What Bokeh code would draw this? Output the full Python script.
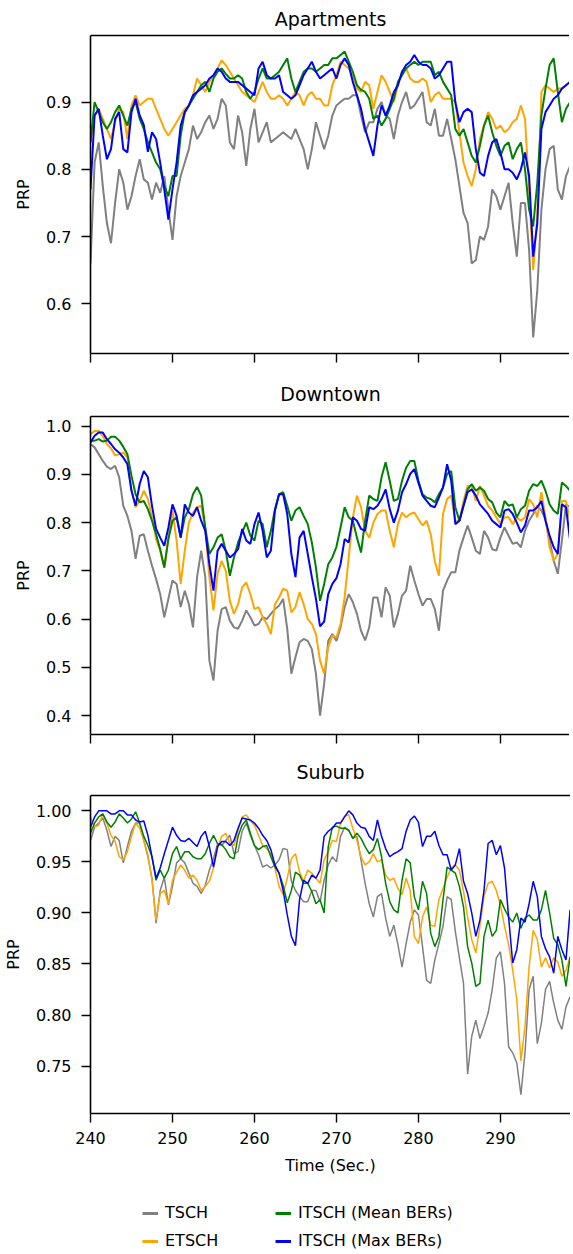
import numpy as np
from bokeh.plotting import figure
from bokeh.layouts import column
from bokeh.models import (Range1d, FixedTicker, LinearAxis, Legend, LegendItem,
                          PrintfTickFormatter, CustomLabelingPolicy)
from bokeh.embed import file_html
from bokeh.resources import INLINE

# ---------------- data ----------------
time_s = np.arange(240.0, 299.0, 0.5)          # 118 samples, 240 .. 298.5 s
x_ticks = [240, 250, 260, 270, 280, 290]

series_names = ["TSCH", "ETSCH", "ITSCH (Mean BERs)", "ITSCH (Max BERs)"]
series_colors = ["#808080", "#ffa500", "#008000", "#0000ff"]

# Apartments
apt_tsch = [0.66, 0.81, 0.84, 0.775, 0.72, 0.69, 0.75, 0.80, 0.78, 0.74,
            0.76, 0.79, 0.815, 0.785, 0.78, 0.755, 0.78, 0.765, 0.79, 0.74,
            0.695, 0.76, 0.79, 0.81, 0.83, 0.865, 0.845, 0.855, 0.87, 0.88,
            0.86, 0.875, 0.905, 0.895, 0.84, 0.83, 0.88, 0.855, 0.805, 0.86,
            0.89, 0.84, 0.855, 0.87, 0.84, 0.845, 0.85, 0.855, 0.85, 0.845,
            0.86, 0.845, 0.83, 0.80, 0.83, 0.87, 0.85, 0.83, 0.85, 0.88,
            0.895, 0.90, 0.905, 0.905, 0.91, 0.91, 0.88, 0.855, 0.87, 0.87,
            0.89, 0.90, 0.88, 0.875, 0.845, 0.88, 0.90, 0.915, 0.89, 0.895,
            0.905, 0.915, 0.87, 0.865, 0.89, 0.85, 0.85, 0.875, 0.845, 0.815,
            0.775, 0.735, 0.72, 0.66, 0.665, 0.70, 0.695, 0.715, 0.77, 0.76,
            0.74, 0.76, 0.78, 0.72, 0.67, 0.75, 0.75, 0.68, 0.55, 0.62,
            0.74, 0.80, 0.83, 0.835, 0.77, 0.755, 0.79, 0.805]
apt_etsch = [0.84, 0.88, 0.89, 0.875, 0.86, 0.845, 0.87, 0.89, 0.885, 0.845,
             0.895, 0.91, 0.895, 0.90, 0.905, 0.905, 0.89, 0.875, 0.86, 0.85,
             0.86, 0.87, 0.88, 0.89, 0.895, 0.91, 0.935, 0.925, 0.915, 0.93,
             0.94, 0.95, 0.962, 0.955, 0.945, 0.935, 0.925, 0.915, 0.91, 0.905,
             0.90, 0.915, 0.93, 0.915, 0.905, 0.905, 0.91, 0.905, 0.895, 0.905,
             0.915, 0.91, 0.895, 0.91, 0.915, 0.905, 0.905, 0.895, 0.895, 0.925,
             0.94, 0.96, 0.955, 0.95, 0.94, 0.92, 0.915, 0.93, 0.925, 0.89,
             0.915, 0.94, 0.93, 0.915, 0.90, 0.925, 0.945, 0.95, 0.935, 0.93,
             0.93, 0.935, 0.93, 0.90, 0.91, 0.915, 0.905, 0.905, 0.905, 0.90,
             0.855, 0.81, 0.79, 0.775, 0.80, 0.845, 0.865, 0.885, 0.875, 0.86,
             0.865, 0.855, 0.86, 0.87, 0.875, 0.895, 0.875, 0.77, 0.65, 0.73,
             0.915, 0.925, 0.92, 0.915, 0.92, 0.92, 0.925, 0.93]
apt_mean = [0.84, 0.90, 0.885, 0.87, 0.86, 0.87, 0.885, 0.895, 0.88, 0.865,
            0.89, 0.90, 0.875, 0.86, 0.84, 0.825, 0.81, 0.80, 0.775, 0.76,
            0.79, 0.79, 0.85, 0.885, 0.895, 0.905, 0.915, 0.925, 0.93, 0.915,
            0.935, 0.945, 0.95, 0.942, 0.935, 0.935, 0.94, 0.935, 0.915, 0.905,
            0.915, 0.935, 0.95, 0.935, 0.935, 0.94, 0.945, 0.955, 0.965, 0.935,
            0.915, 0.93, 0.945, 0.95, 0.95, 0.945, 0.95, 0.955, 0.955, 0.965,
            0.965, 0.97, 0.975, 0.96, 0.945, 0.925, 0.918, 0.915, 0.905, 0.875,
            0.88, 0.865, 0.875, 0.89, 0.905, 0.93, 0.94, 0.95, 0.955, 0.96,
            0.955, 0.96, 0.96, 0.96, 0.94, 0.945, 0.93, 0.92, 0.91, 0.86,
            0.85, 0.86, 0.84, 0.82, 0.81, 0.835, 0.865, 0.88, 0.855, 0.835,
            0.82, 0.835, 0.84, 0.815, 0.83, 0.84, 0.80, 0.74, 0.715, 0.78,
            0.88, 0.92, 0.955, 0.965, 0.915, 0.87, 0.89, 0.90]
apt_max = [0.77, 0.88, 0.89, 0.85, 0.815, 0.83, 0.875, 0.885, 0.83, 0.825,
           0.885, 0.905, 0.88, 0.866, 0.826, 0.855, 0.845, 0.81, 0.77, 0.725,
           0.77, 0.81, 0.865, 0.885, 0.895, 0.91, 0.915, 0.92, 0.925, 0.935,
           0.94, 0.95, 0.945, 0.935, 0.93, 0.93, 0.93, 0.925, 0.92, 0.915,
           0.91, 0.95, 0.96, 0.94, 0.935, 0.935, 0.94, 0.915, 0.91, 0.905,
           0.91, 0.925, 0.94, 0.95, 0.96, 0.945, 0.935, 0.94, 0.945, 0.95,
           0.935, 0.955, 0.965, 0.955, 0.93, 0.91, 0.89, 0.86, 0.84, 0.82,
           0.865, 0.895, 0.88, 0.895, 0.915, 0.925, 0.945, 0.955, 0.96, 0.97,
           0.96, 0.955, 0.955, 0.95, 0.935, 0.94, 0.95, 0.96, 0.96, 0.90,
           0.87, 0.885, 0.89, 0.885, 0.83, 0.795, 0.79, 0.82, 0.84, 0.845,
           0.825, 0.80, 0.80, 0.795, 0.785, 0.80, 0.825, 0.79, 0.67, 0.72,
           0.86, 0.885, 0.895, 0.905, 0.91, 0.92, 0.925, 0.93]

# Downtown
dt_tsch = [0.963, 0.956, 0.942, 0.928, 0.916, 0.911, 0.918, 0.894, 0.835, 0.814,
           0.783, 0.725, 0.773, 0.776, 0.742, 0.711, 0.683, 0.652, 0.604, 0.642,
           0.680, 0.673, 0.625, 0.659, 0.631, 0.583, 0.687, 0.742, 0.687, 0.514,
           0.473, 0.576, 0.621, 0.625, 0.597, 0.583, 0.580, 0.597, 0.618, 0.604,
           0.587, 0.590, 0.604, 0.600, 0.611, 0.621, 0.628, 0.642, 0.580, 0.487,
           0.521, 0.552, 0.559, 0.555, 0.538, 0.487, 0.400, 0.466, 0.555, 0.569,
           0.555,
           0.583, 0.625, 0.652, 0.635, 0.611, 0.576, 0.556, 0.583, 0.645,
           0.645, 0.604, 0.666, 0.649, 0.583, 0.611, 0.649, 0.659, 0.711, 0.680,
           0.652, 0.628, 0.642, 0.642, 0.621, 0.576, 0.659, 0.680, 0.697, 0.697,
           0.742, 0.769, 0.794, 0.769, 0.742, 0.735, 0.783, 0.769, 0.745, 0.742,
           0.769, 0.790, 0.773, 0.756, 0.759, 0.749, 0.783, 0.804, 0.818, 0.835,
           0.825, 0.807, 0.763, 0.721, 0.694, 0.763, 0.838, 0.832]
dt_etsch = [0.983, 0.990, 0.990, 0.980, 0.963, 0.954, 0.939, 0.942, 0.945, 0.935,
            0.866, 0.832, 0.845, 0.866, 0.849, 0.811, 0.766, 0.742, 0.707, 0.769,
            0.825, 0.763, 0.673, 0.742, 0.800, 0.821, 0.832, 0.835, 0.790, 0.687,
            0.618, 0.694, 0.721, 0.700, 0.638, 0.611, 0.631, 0.666, 0.676, 0.652,
            0.621, 0.625, 0.604, 0.590, 0.569, 0.631, 0.645, 0.663, 0.659, 0.614,
            0.625, 0.656, 0.631, 0.600, 0.590, 0.569, 0.514, 0.487, 0.542, 0.566,
            0.562,
            0.590, 0.645, 0.728, 0.811, 0.856, 0.832, 0.783, 0.769, 0.800,
            0.818, 0.825, 0.825, 0.783, 0.749, 0.797, 0.821, 0.811, 0.818, 0.821,
            0.807, 0.794, 0.804, 0.776, 0.720, 0.690, 0.818, 0.849, 0.856, 0.804,
            0.804, 0.845, 0.876, 0.876, 0.845, 0.876, 0.856, 0.835, 0.825, 0.811,
            0.797, 0.811, 0.811, 0.797, 0.811, 0.804, 0.811, 0.849, 0.838, 0.811,
            0.863, 0.811, 0.749, 0.721, 0.735, 0.845, 0.845, 0.804]
dt_mean = [0.970, 0.970, 0.973, 0.968, 0.970, 0.978, 0.978, 0.970, 0.957, 0.942,
           0.897, 0.859, 0.842, 0.845, 0.828, 0.804, 0.776, 0.745, 0.707, 0.766,
           0.804, 0.811, 0.769, 0.811, 0.828, 0.859, 0.874, 0.856, 0.790, 0.735,
           0.749, 0.769, 0.776, 0.742, 0.690, 0.728, 0.759, 0.780, 0.800, 0.773,
           0.763, 0.804, 0.797, 0.749, 0.783, 0.828, 0.859, 0.863, 0.835, 0.804,
           0.825, 0.832, 0.814, 0.797, 0.759, 0.707, 0.638, 0.673, 0.714, 0.728,
           0.750,
           0.790, 0.832, 0.811, 0.804, 0.769, 0.738, 0.804, 0.856, 0.849,
           0.845, 0.894, 0.925, 0.887, 0.845, 0.849, 0.887, 0.914, 0.928, 0.928,
           0.887, 0.859, 0.852, 0.849, 0.842, 0.859, 0.873, 0.901, 0.907, 0.832,
           0.804, 0.835, 0.869, 0.880, 0.866, 0.873, 0.866, 0.849, 0.842, 0.821,
           0.811, 0.845, 0.835, 0.838, 0.811, 0.828, 0.835, 0.866, 0.880, 0.876,
           0.887, 0.866, 0.838, 0.825, 0.818, 0.883, 0.876, 0.866]
dt_max = [0.966, 0.980, 0.987, 0.987, 0.973, 0.963, 0.952, 0.945, 0.935, 0.921,
          0.866, 0.835, 0.880, 0.907, 0.894, 0.835, 0.787, 0.769, 0.752, 0.790,
          0.838, 0.814, 0.769, 0.838, 0.821, 0.814, 0.832, 0.804, 0.783, 0.714,
          0.659, 0.742, 0.756, 0.742, 0.728, 0.735, 0.745, 0.787, 0.763, 0.756,
          0.797, 0.821, 0.783, 0.728, 0.742, 0.825, 0.859, 0.859, 0.818, 0.735,
          0.687, 0.769, 0.783, 0.735, 0.687, 0.642, 0.585, 0.595, 0.652, 0.673,
          0.685,
          0.714, 0.766, 0.759, 0.811, 0.804, 0.787, 0.783, 0.832, 0.828,
          0.835, 0.849, 0.869, 0.828, 0.800, 0.825, 0.863, 0.880, 0.901, 0.911,
          0.883, 0.856, 0.845, 0.835, 0.832, 0.852, 0.873, 0.921, 0.887, 0.797,
          0.804, 0.835, 0.863, 0.869, 0.856, 0.838, 0.828, 0.818, 0.804, 0.797,
          0.790, 0.825, 0.828, 0.818, 0.800, 0.780, 0.794, 0.825, 0.825, 0.832,
          0.845, 0.804, 0.773, 0.749, 0.735, 0.838, 0.832, 0.763]

# Suburb
sub_tsch = [0.971, 0.984, 0.988, 0.993, 0.981, 0.965, 0.975, 0.971, 0.949, 0.965,
            0.980, 0.988, 0.988, 0.971, 0.955, 0.934, 0.890, 0.922, 0.935, 0.908,
            0.926, 0.949, 0.953, 0.949, 0.939, 0.929, 0.926, 0.919, 0.927, 0.942,
            0.953, 0.968, 0.966, 0.971, 0.976, 0.958, 0.960, 0.980, 0.988, 0.976,
            0.966, 0.957, 0.945, 0.947, 0.944, 0.947, 0.952, 0.963, 0.962, 0.931,
            0.922, 0.916, 0.911, 0.911, 0.922, 0.922, 0.911, 0.932, 0.947, 0.955,
            0.950,
            0.975, 0.984, 0.981, 0.973, 0.975, 0.952, 0.929, 0.909, 0.896,
            0.916, 0.919, 0.895, 0.877, 0.888, 0.869, 0.847, 0.870, 0.891, 0.903,
            0.898, 0.867, 0.834, 0.831, 0.854, 0.870, 0.887, 0.916, 0.913, 0.882,
            0.856, 0.831, 0.742, 0.779, 0.795, 0.777, 0.789, 0.802, 0.825, 0.856,
            0.862, 0.831, 0.769, 0.763, 0.753, 0.722, 0.763, 0.825, 0.838, 0.772,
            0.792, 0.825, 0.833, 0.812, 0.795, 0.786, 0.808, 0.818]
sub_etsch = [0.994, 0.984, 0.986, 0.997, 0.988, 0.976, 0.970, 0.955, 0.952, 0.960,
             0.975, 0.988, 0.983, 0.971, 0.957, 0.932, 0.893, 0.919, 0.922, 0.909,
             0.932, 0.940, 0.947, 0.942, 0.934, 0.937, 0.932, 0.922, 0.926, 0.931,
             0.944, 0.963, 0.975, 0.978, 0.968, 0.966, 0.981, 0.994, 0.996, 0.990,
             0.986, 0.976, 0.966, 0.963, 0.958, 0.944, 0.926, 0.918, 0.934, 0.953,
             0.958, 0.940, 0.931, 0.942, 0.939, 0.934, 0.929, 0.952, 0.960, 0.971,
             0.970,
             0.988, 0.995, 0.996, 0.983, 0.971, 0.955, 0.947, 0.950, 0.958,
             0.950, 0.952, 0.937, 0.932, 0.934, 0.924, 0.918, 0.934, 0.922, 0.877,
             0.870, 0.896, 0.906, 0.888, 0.887, 0.913, 0.924, 0.935, 0.944, 0.947,
             0.942, 0.921, 0.896, 0.874, 0.861, 0.887, 0.916, 0.929, 0.931, 0.922,
             0.908, 0.887, 0.869, 0.844, 0.815, 0.755, 0.789, 0.847, 0.883, 0.874,
             0.847, 0.856, 0.846, 0.856, 0.852, 0.838, 0.844, 0.857]
sub_mean = [0.978, 0.988, 0.994, 0.997, 0.989, 0.984, 0.989, 0.997, 0.993, 0.988,
            0.992, 0.999, 0.988, 0.975, 0.966, 0.955, 0.932, 0.942, 0.934, 0.942,
            0.958, 0.965, 0.953, 0.960, 0.960, 0.955, 0.953, 0.953, 0.958, 0.968,
            0.976, 0.968, 0.967, 0.962, 0.955, 0.953, 0.975, 0.986, 0.991, 0.978,
            0.966, 0.962, 0.965, 0.966, 0.955, 0.945, 0.939, 0.927, 0.910, 0.922,
            0.940, 0.937, 0.929, 0.929, 0.921, 0.909, 0.913, 0.900, 0.965, 0.984,
            0.985,
            0.983, 0.983, 0.981, 0.973, 0.978, 0.973, 0.965, 0.958, 0.962,
            0.973, 0.955, 0.929, 0.911, 0.903, 0.900, 0.932, 0.953, 0.949, 0.916,
            0.903, 0.931, 0.919, 0.880, 0.867, 0.877, 0.913, 0.945, 0.942, 0.939,
            0.926, 0.906, 0.867, 0.851, 0.828, 0.831, 0.877, 0.893, 0.877, 0.883,
            0.913, 0.904, 0.896, 0.891, 0.900, 0.885, 0.895, 0.898, 0.893, 0.893,
            0.903, 0.922, 0.900, 0.875, 0.869, 0.854, 0.828, 0.857]
sub_max = [0.984, 0.994, 1.000, 1.000, 1.000, 0.997, 0.997, 1.000, 1.000, 0.996,
           0.996, 0.991, 0.989, 0.990, 0.976, 0.955, 0.934, 0.944, 0.958, 0.971,
           0.984, 0.976, 0.971, 0.970, 0.973, 0.969, 0.965, 0.975, 0.980, 0.965,
           0.945, 0.965, 0.970, 0.970, 0.966, 0.971, 0.983, 0.993, 0.992, 0.991,
           0.988, 0.983, 0.976, 0.971, 0.962, 0.947, 0.939, 0.922, 0.898, 0.877,
           0.868, 0.913, 0.932, 0.929, 0.937, 0.934, 0.942, 0.975, 0.980, 0.983,
           0.988,
           0.988, 0.994, 1.000, 0.996, 0.988, 0.984, 0.983, 0.975, 0.971,
           0.991, 0.975, 0.963, 0.955, 0.958, 0.960, 0.963, 0.980, 0.991, 0.995,
           0.989, 0.965, 0.975, 0.975, 0.980, 0.966, 0.957, 0.957, 0.942, 0.947,
           0.963, 0.931, 0.919, 0.900, 0.877, 0.893, 0.922, 0.968, 0.971, 0.957,
           0.966, 0.944, 0.896, 0.851, 0.864, 0.895, 0.891, 0.909, 0.931, 0.916,
           0.877, 0.865, 0.857, 0.841, 0.877, 0.864, 0.854, 0.903]

apt_yticks = [0.6, 0.7, 0.8, 0.9]
dt_yticks = [0.4, 0.5, 0.6, 0.7, 0.8, 0.9, 1.0]
sub_yticks = [0.75, 0.80, 0.85, 0.90, 0.95, 1.00]

# ---------------- style ----------------
FONT = "DejaVu Sans"
LEFT = 89
FRAME_W = 480
FRAME_H = 318

NO_LABELS = CustomLabelingPolicy(code="""
try { for (const i of [...indices]) indices.unset(i) } catch (e) {}
return indices
""")


def make_panel(title, series, y_lo, y_hi, yticks, yfmt, lw,
               top_border, bottom_border, title_standoff, xlabels):
    p = figure(frame_width=FRAME_W, frame_height=FRAME_H,
               x_range=Range1d(240, 298.55), y_range=Range1d(y_lo, y_hi),
               toolbar_location=None, output_backend="svg",
               min_border_left=LEFT, min_border_right=0,
               min_border_top=top_border, min_border_bottom=bottom_border)
    p.outline_line_color = None
    p.grid.visible = False
    p.background_fill_color = "white"
    p.border_fill_color = "white"

    for vals, col in zip(series, series_colors):
        p.line(time_s, vals, line_color=col, line_width=lw)

    p.title.text = title
    p.title.align = "center"
    p.title.offset = 2
    p.title.text_font = FONT
    p.title.text_font_size = "19px"
    p.title.text_font_style = "normal"
    p.title.text_color = "black"
    p.title.standoff = title_standoff

    for ax in (p.xaxis[0], p.yaxis[0]):
        ax.axis_line_color = "black"
        ax.axis_line_width = 1.6
        ax.major_tick_line_color = "black"
        ax.major_tick_line_width = 1.4
        ax.major_tick_out = 9
        ax.major_tick_in = 0
        ax.minor_tick_line_color = None
        ax.major_label_text_font = FONT
        ax.major_label_text_font_size = "16px"
        ax.major_label_text_color = "black"
        ax.major_label_standoff = 10
        ax.axis_label_text_font = FONT
        ax.axis_label_text_font_size = "16px"
        ax.axis_label_text_font_style = "normal"
        ax.axis_label_text_color = "black"

    p.yaxis[0].ticker = FixedTicker(ticks=yticks)
    p.yaxis[0].formatter = PrintfTickFormatter(format=yfmt)
    p.yaxis[0].axis_label = "PRP"
    p.yaxis[0].axis_label_standoff = 10

    p.xaxis[0].ticker = FixedTicker(ticks=x_ticks)
    if xlabels:
        p.xaxis[0].major_label_standoff = 9
        p.xaxis[0].axis_label = "Time (Sec.)"
        p.xaxis[0].axis_label_standoff = 9
    else:
        p.xaxis[0].major_label_policy = NO_LABELS
        p.xaxis[0].major_label_text_font_size = "0px"
        p.xaxis[0].major_label_standoff = 0

    # top spine
    top = LinearAxis(ticker=FixedTicker(ticks=[]))
    top.axis_line_color = "black"
    top.axis_line_width = 1.6
    top.major_tick_line_color = None
    top.minor_tick_line_color = None
    top.major_tick_out = 0
    top.major_tick_in = 0
    top.major_label_standoff = 0
    p.add_layout(top, "above")
    return p


p1 = make_panel("Apartments", [apt_tsch, apt_etsch, apt_mean, apt_max],
                0.526, 0.999, apt_yticks, "%.1f", 2.0,
                top_border=33, bottom_border=16, title_standoff=11, xlabels=False)
p2 = make_panel("Downtown", [dt_tsch, dt_etsch, dt_mean, dt_max],
                0.361, 1.020, dt_yticks, "%.1f", 2.0,
                top_border=45, bottom_border=12, title_standoff=23, xlabels=False)
p3 = make_panel("Suburb", [sub_tsch, sub_etsch, sub_mean, sub_max],
                0.7036, 1.015, sub_yticks, "%.2f", 1.5,
                top_border=47, bottom_border=65, title_standoff=25, xlabels=True)

# legend strip below the panels (handles are off-range samples, never visible)
pl = figure(width=LEFT + FRAME_W, height=72, x_axis_type=None, y_axis_type=None,
            x_range=Range1d(0, 1), y_range=Range1d(0, 1),
            toolbar_location=None, output_backend="svg", min_border=0)
pl.outline_line_color = None
pl.grid.visible = False
handle_x = [5.0, 6.0]
handle_y = [5.0, 5.0]
handles = [pl.line(handle_x, handle_y, line_color=c, line_width=3) for c in series_colors]

for idx, xloc in ((0, 52), (2, 185)):
    lg = Legend(items=[LegendItem(label=series_names[idx], renderers=[handles[idx]]),
                       LegendItem(label=series_names[idx + 1], renderers=[handles[idx + 1]])],
                location=(xloc, 0))
    lg.border_line_color = None
    lg.background_fill_alpha = 0
    lg.padding = 0
    lg.margin = 0
    lg.spacing = 9
    lg.glyph_width = 16
    lg.glyph_height = 16
    lg.label_height = 16
    lg.label_standoff = 7
    lg.label_text_font = FONT
    lg.label_text_font_size = "16px"
    lg.label_text_color = "black"
    pl.add_layout(lg)

layout = column(p1, p2, p3, pl)
open("out.html", "w").write(file_html(layout, INLINE))
